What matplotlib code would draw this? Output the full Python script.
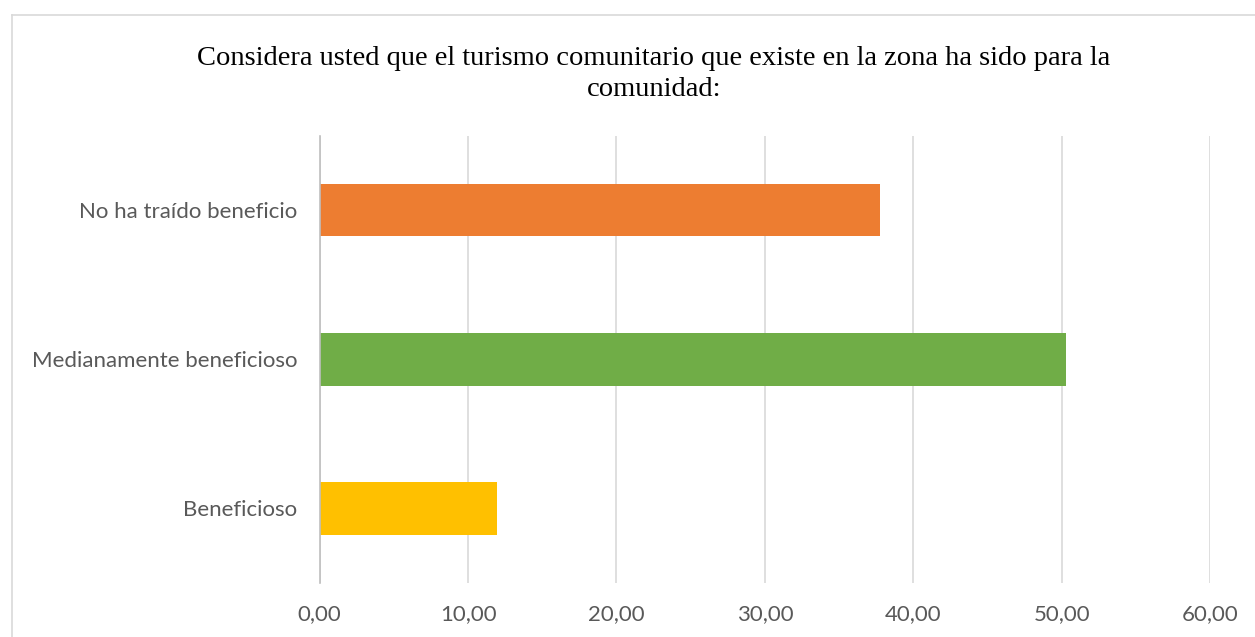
import matplotlib.pyplot as plt
from matplotlib.lines import Line2D
from matplotlib.ticker import FuncFormatter

categories = ["Beneficioso", "Medianamente beneficioso", "No ha traído beneficio"]
values = [11.97, 50.27, 37.76]
colors = ["#FFC000", "#70AD47", "#ED7D31"]
x_ticks = [0, 10, 20, 30, 40, 50, 60]
title = "Considera usted que el turismo comunitario que existe en la zona ha sido para la\ncomunidad:"

W, H = 1255, 637
fig = plt.figure(figsize=(W / 100, H / 100), dpi=100)
fig.patch.set_facecolor("white")

# chart frame (left and top edges visible)
frame = "#d9d9d9"
fig.add_artist(Line2D([12 / W, 12 / W], [0, 1 - 15 / H], color=frame, lw=1.2, transform=fig.transFigure))
fig.add_artist(Line2D([12 / W, 1], [1 - 15 / H, 1 - 15 / H], color=frame, lw=1.2, transform=fig.transFigure))

left, right = 319.7 / W, 1210 / W
bottom, top = 1 - 583 / H, 1 - 135.5 / H
ax = fig.add_axes([left, bottom, right - left, top - bottom])

ypos = range(len(categories))
ax.barh(ypos, values, height=0.354, color=colors, zorder=3)

ax.set_xlim(0, 60)
ax.set_ylim(-0.5, len(categories) - 0.5)
ax.set_xticks(x_ticks)
ax.xaxis.set_major_formatter(FuncFormatter(lambda v, p: f"{v:.2f}".replace(".", ",")))
ax.set_yticks(list(ypos))
ax.set_yticklabels(categories)

ax.grid(axis="x", color="#d9d9d9", lw=1.2, zorder=0)
for s in ["top", "right", "bottom"]:
    ax.spines[s].set_visible(False)
ax.spines["left"].set_color("#bfbfbf")
ax.spines["left"].set_linewidth(1.2)
ax.spines["left"].set_zorder(4)

ax.tick_params(axis="both", length=0, colors="#595959", labelsize=16)
ax.tick_params(axis="x", pad=15)
ax.tick_params(axis="y", pad=16)
for lab in ax.get_xticklabels() + ax.get_yticklabels():
    lab.set_fontfamily("Lato")

fig.text(654 / W, 1 - 74 / H, title, ha="center", va="center",
         fontsize=20.5, family="Liberation Serif", color="black", linespacing=1.35)

fig.savefig("out.png", dpi=100, facecolor="white")
